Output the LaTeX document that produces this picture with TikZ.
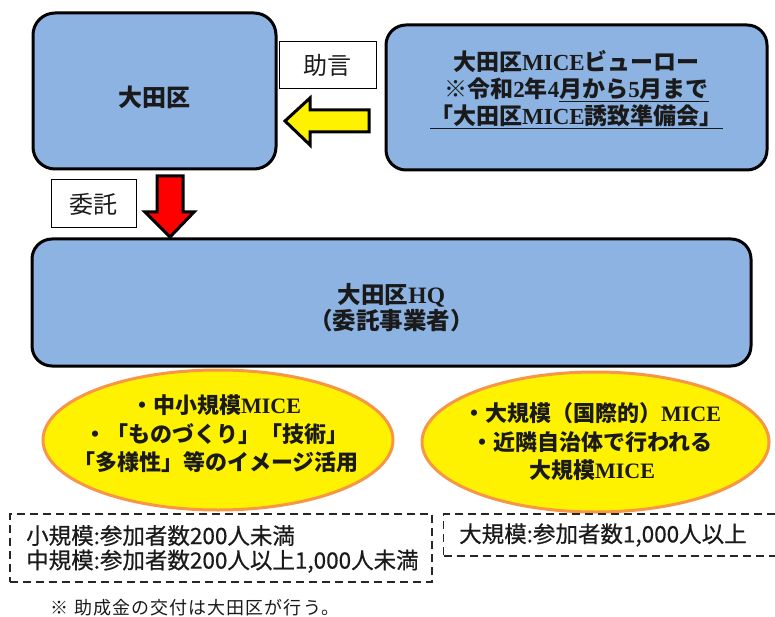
\documentclass[tikz,border=0pt]{standalone}
\usepackage{fontspec}
\setmainfont{Noto Sans CJK JP}
\newfontfamily\serfont{Liberation Serif}
\newfontfamily\medfont{Noto Sans CJK JP}[FakeBold=0.6]
\newfontfamily\notefont{Noto Sans CJK JP}[LetterSpace=6]
\newcommand{\lat}[1]{{\serfont\bfseries #1}}
\usetikzlibrary{shapes.geometric}
\definecolor{boxblue}{HTML}{8DB3E2}
\definecolor{ovalorange}{HTML}{F79646}
\definecolor{ink}{HTML}{1A1A1A}
\begin{document}
\begin{tikzpicture}[x=1pt,y=-1pt,
  bluebox/.style={draw=black, line width=3pt, fill=boxblue, rounded corners=22pt, inner sep=0pt},
  labelbox/.style={draw=black, line width=1pt, fill=white, inner sep=0pt, text=ink},
  oval/.style={ellipse, draw=ovalorange, line width=3pt, fill=yellow, inner sep=0pt},
  dashbox/.style={draw=black!85, line width=1.8pt, dash pattern=on 8pt off 5pt, inner sep=0pt},
  txt/.style={align=center, text=ink, inner sep=0pt},
  blockarrow/.style={draw=black, line width=3pt, line join=miter}
]
\useasboundingbox (0,0) rectangle (775,617);

% boxes
\node[bluebox, minimum width=243pt, minimum height=156pt] (ota) at (154.5,91) {};
\node[txt, font=\fontsize{24}{28}\selectfont\bfseries] (otaT) at (154.5,97) {大田区};

\node[bluebox, rounded corners=20pt, minimum width=381pt, minimum height=145pt] (bureau) at (576.5,97.5) {};
\node[txt, font=\fontsize{23}{27}\selectfont\bfseries] (bureauT) at (576.5,90)
  {大田区\lat{MICE}ビューロー\\
   ※令和\lat{2}年\lat{4}\underline{月から\lat{5}月まで}\\
   \underline{「大田区\lat{MICE}誘致準備会」}};

\node[bluebox, rounded corners=20pt, minimum width=719pt, minimum height=127pt] (hq) at (391.5,302.5) {};
\node[txt, font=\fontsize{23.5}{26}\selectfont\bfseries] (hqT) at (391.5,307.5)
  {大田区\lat{HQ}\\（委託事業者）};

% label boxes
\node[labelbox, minimum width=97pt, minimum height=47pt, font=\fontsize{24}{28}\selectfont] (advice) at (327.5,65.5) {助言};
\node[labelbox, minimum width=85pt, minimum height=48pt, font=\fontsize{24}{28}\selectfont] (commission) at (93.5,204) {委託};

% block arrows
\draw[blockarrow, fill=yellow] (369,110) -- (310,110) -- (310,98) -- (285,121) -- (310,145) -- (310,132) -- (369,132) -- cycle;
\draw[blockarrow, fill=red] (157,176) -- (183,176) -- (183,212) -- (194,212) -- (170,237) -- (145,212) -- (157,212) -- cycle;

% ellipses
\node[oval, minimum width=350pt, minimum height=140pt] (ovalL) at (218,440) {};
\node[txt, font=\fontsize{22}{28.5}\selectfont\bfseries] (ovalLT) at (216,434)
  {・中小規模\lat{MICE}\\・「ものづくり」「技術」\\「多様性」等のイメージ活用};
\node[oval, minimum width=347pt, minimum height=140pt] (ovalR) at (595.5,442) {};
\node[txt, font=\fontsize{22}{28.5}\selectfont\bfseries] (ovalRT) at (592,442)
  {・大規模（国際的）\lat{MICE}\\・近隣自治体で行われる\\大規模\lat{MICE}};

% dashed boxes
\node[dashbox, minimum width=422pt, minimum height=68pt] (scaleL) at (221,548) {};
\node[txt, align=left, anchor=west, font=\medfont\fontsize{22.5}{24.5}\selectfont] (scaleLT) at (26,549)
  {小規模:参加者数200人未満\\中規模:参加者数200人以上1,000人未満};
\node[dashbox, minimum width=333pt, minimum height=42pt] (scaleR) at (610,535) {};
\node[txt, anchor=west, font=\medfont\fontsize{22.5}{24.5}\selectfont] (scaleRT) at (459,535)
  {大規模:参加者数1,000人以上};

% footnote
\node[txt, font=\notefont\fontsize{18}{20}\selectfont] (note) at (195,608) {※ 助成金の交付は大田区が行う。};
\end{tikzpicture}
\end{document}
